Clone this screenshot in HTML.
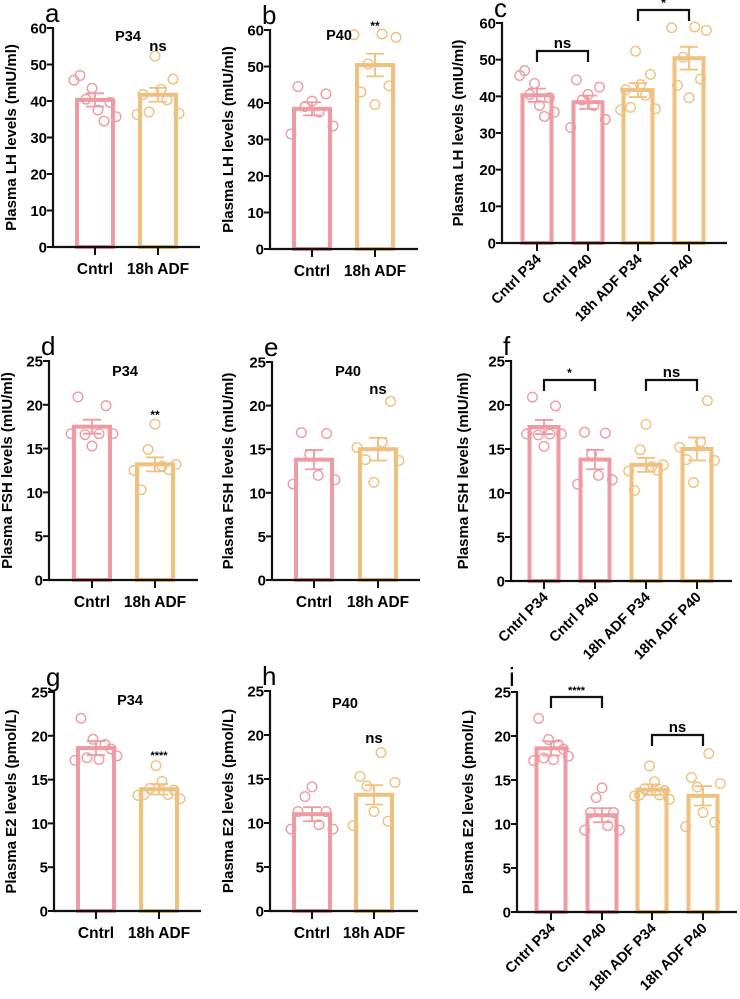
<!DOCTYPE html>
<html><head><meta charset="utf-8">
<style>
html,body{margin:0;padding:0;background:#fff}
svg{display:block}
text{font-family:"Liberation Sans",Arial,sans-serif}
</style></head>
<body>
<svg id="fig" width="740" height="999" viewBox="0 0 740 999"></svg>
<script>
// ---- data ----
const groups2 = ["Cntrl", "18h ADF"];
const groups4 = ["Cntrl P34", "Cntrl P40", "18h ADF P34", "18h ADF P40"];
const lhTicks = [0, 10, 20, 30, 40, 50, 60];
const fshTicks = [0, 5, 10, 15, 20, 25];
const e2Ticks = [0, 5, 10, 15, 20, 25];

const lhCtrlP34 = [45.7, 47, 40.5, 43.5, 37.5, 34.5, 39.6, 35.7];
const lhAdfP34 = [36.3, 41.8, 37, 52.3, 43.2, 40.3, 46, 36.6];
const lhCtrlP40 = [31.5, 44.5, 39, 40.5, 37.5, 42.5, 33.7];
const lhAdfP40 = [58.7, 43, 50.7, 39.6, 58.9, 44.7, 58];
const lhMeans = [40.3, 38.4, 41.7, 50.4];
const lhSems = [1.8, 1.8, 1.9, 3.1];

const fshCtrlP34 = [16.7, 20.9, 16.6, 15.3, 16.7, 19.9, 16.7];
const fshAdfP34 = [12.5, 10.3, 14.9, 17.8, 13.0, 12.6, 13.2];
const fshCtrlP40 = [11.0, 16.9, 14.4, 12.0, 16.8, 11.5];
const fshAdfP40 = [15.2, 13.8, 11.2, 15.8, 20.5, 13.7];
const fshMeans = [17.5, 13.8, 13.2, 15.0];
const fshSems = [0.8, 1.1, 0.8, 1.3];

const e2CtrlP34 = [17.2, 22, 17.5, 19.6, 17.3, 19, 18.5, 17.7];
const e2AdfP34 = [13.2, 13.3, 14, 16.6, 14.8, 13.3, 13.8, 12.8];
const e2CtrlP40 = [9.3, 11.3, 13, 14.1, 9.8, 11.3, 9.3];
const e2AdfP40 = [9.7, 15.3, 14.2, 11.3, 18, 10.2, 14.6];
const e2Means = [18.6, 11.0, 13.9, 13.2];
const e2Sems = [0.8, 0.8, 0.6, 1.1];

// ---- drawing ----
const NS = "http://www.w3.org/2000/svg";
const svg = document.getElementById("fig");
const PINK = "#ee9ba3", ORANGE = "#f0c07e";
function mk(tag, attrs, parent) {
  const e = document.createElementNS(NS, tag);
  for (const k in attrs) e.setAttribute(k, attrs[k]);
  (parent || svg).appendChild(e);
  return e;
}
function txt(str, attrs, parent) { const t = mk("text", attrs, parent); t.textContent = str; return t; }

function panel(cfg) {
  const g = mk("g", {});
  
  
  const ymax = cfg.ticks[cfg.ticks.length - 1];
  const yS = v => cfg.y0 - (v / ymax) * (cfg.y0 - cfg.yTop);
  const xS = i => cfg.ax + cfg.centers[i];
  cfg.means.forEach((m, i) => {
    const col = cfg.colors[i];
    const r = mk("rect", {x: xS(i) - cfg.bw / 2 + 2, y: yS(m), width: cfg.bw - 4, height: cfg.y0 - yS(m), fill: "none", stroke: col, "stroke-width": 4}, g);
    
    
  });
  cfg.points.forEach((pts, i) => {
    const n = pts.length, col = cfg.colors[i];
    pts.forEach((v, j) => {
      const off = n > 1 ? (j / (n - 1) - 0.5) * cfg.bw * 1.05 : 0;
      const c = mk("circle", {cx: xS(i) + off, cy: yS(v), r: 4.8, fill: "none", stroke: col, "stroke-width": 1.4}, g);
      
      
    });
  });
  cfg.means.forEach((m, i) => {
    const col = cfg.colors[i], s = cfg.sems[i], x = xS(i);
    mk("path", {d: `M${x} ${yS(m + s)}V${yS(m - s)}M${x - 9} ${yS(m + s)}h18M${x - 9} ${yS(m - s)}h18`, stroke: col, "stroke-width": 1.8, fill: "none"}, g);
  });
  mk("path", {d: `M${cfg.ax} ${cfg.yTop - 1}V${cfg.y0}H${cfg.xEnd}`, stroke: "#111", "stroke-width": 2.2, fill: "none"}, g);
  cfg.ticks.forEach(t => {
    mk("line", {x1: cfg.ax - 6, x2: cfg.ax, y1: yS(t), y2: yS(t), stroke: "#111", "stroke-width": 2}, g);
    const tl = txt(String(t), {x: cfg.ax - 6, y: yS(t) + 5.5, "text-anchor": "end", "font-size": 15, "font-weight": "bold"}, g);
    
    
  });
  cfg.labels.forEach((l, i) => {
    mk("line", {x1: xS(i), x2: xS(i), y1: cfg.y0, y2: cfg.y0 + 8, stroke: "#111", "stroke-width": 2}, g);
    let tl;
    if (cfg.rot) {
      const px = xS(i) + 5, py = cfg.y0 + 17;
      tl = txt(l, {x: px, y: py, "text-anchor": "end", "font-size": 14.5, "font-weight": "bold", transform: `rotate(-45 ${px} ${py})`}, g);
    } else {
      tl = txt(l, {x: xS(i), y: cfg.y0 + 27, "text-anchor": "middle", "font-size": 15.5, "font-weight": "bold"}, g);
    }
    
    
  });
  const cy = (cfg.y0 + cfg.yTop) / 2;
  const yt = txt(cfg.ytitle, {x: cfg.ytx, y: cy, "text-anchor": "middle", "font-size": 15, "font-weight": "bold", transform: `rotate(-90 ${cfg.ytx} ${cy})`}, g);
  
  
  const pl = txt(cfg.letter, {x: cfg.ax - 8, y: cfg.yTop - 6, "font-size": 26}, g);
  
  
  if (cfg.title) {
    const tt = txt(cfg.title[0], {x: cfg.title[1], y: cfg.title[2], "text-anchor": "middle", "font-size": 14.5, "font-weight": "bold"}, g);
    
    
  }
  (cfg.sig || []).forEach(s => {
    let lx;
    if (s[2] >= 0) {
      const x1 = xS(s[1]), x2 = xS(s[2]);
      mk("path", {d: `M${x1} ${s[3] + 11}V${s[3]}H${x2}V${s[3] + 11}`, stroke: "#111", "stroke-width": 2.2, fill: "none"}, g);
      lx = (x1 + x2) / 2;
    } else lx = xS(s[1]);
    const st = txt(s[0], {x: lx, y: s[3] - 3, "text-anchor": "middle", "font-size": s[4], "font-weight": "bold"}, g);
    
    
  });
}

const C2 = [PINK, ORANGE], C4 = [PINK, PINK, ORANGE, ORANGE];
panel({name: "panel-a", letter: "a", ax: 53, yTop: 28, y0: 247, xEnd: 200, ticks: lhTicks, centers: [42, 105], bw: 40, labels: groups2, colors: C2,
  points: [lhCtrlP34, lhAdfP34], means: [lhMeans[0], lhMeans[2]], sems: [lhSems[0], lhSems[2]], ytitle: "Plasma LH levels (mIU/ml)", ytx: 16,
  title: ["P34", 128, 41], sig: [["ns", 1, -1, 54, 15]]});
panel({name: "panel-b", letter: "b", ax: 270, yTop: 30, y0: 249, xEnd: 418, ticks: lhTicks, centers: [42, 105], bw: 40, labels: groups2, colors: C2,
  points: [lhCtrlP40, lhAdfP40], means: [lhMeans[1], lhMeans[3]], sems: [lhSems[1], lhSems[3]], ytitle: "Plasma LH levels (mIU/ml)", ytx: 233,
  title: ["P40", 339, 40], sig: [["**", 1, -1, 33, 12]]});
panel({name: "panel-c", letter: "c", ax: 502, yTop: 23, y0: 243, xEnd: 727, ticks: lhTicks, centers: [35, 86, 136, 187], bw: 33, labels: groups4, colors: C4, rot: true,
  points: [lhCtrlP34, lhCtrlP40, lhAdfP34, lhAdfP40], means: lhMeans, sems: lhSems, ytitle: "Plasma LH levels (mIU/ml)", ytx: 463,
  sig: [["ns", 0, 1, 51, 15], ["*", 2, 3, 10, 12]]});

panel({name: "panel-d", letter: "d", ax: 49, yTop: 361, y0: 580, xEnd: 198, ticks: fshTicks, centers: [43, 106], bw: 40, labels: groups2, colors: C2,
  points: [fshCtrlP34, fshAdfP34], means: [fshMeans[0], fshMeans[2]], sems: [fshSems[0], fshSems[2]], ytitle: "Plasma FSH levels (mIU/ml)", ytx: 12,
  title: ["P34", 125, 376], sig: [["**", 1, -1, 422, 12]]});
panel({name: "panel-e", letter: "e", ax: 272, yTop: 362, y0: 580, xEnd: 420, ticks: fshTicks, centers: [42, 106], bw: 40, labels: groups2, colors: C2,
  points: [fshCtrlP40, fshAdfP40], means: [fshMeans[1], fshMeans[3]], sems: [fshSems[1], fshSems[3]], ytitle: "Plasma FSH levels (mIU/ml)", ytx: 233,
  title: ["P40", 348, 376], sig: [["ns", 1, -1, 397, 15]]});
panel({name: "panel-f", letter: "f", ax: 511, yTop: 361, y0: 581, xEnd: 732, ticks: fshTicks, centers: [33, 84, 135, 186], bw: 33, labels: groups4, colors: C4, rot: true,
  points: [fshCtrlP34, fshCtrlP40, fshAdfP34, fshAdfP40], means: fshMeans, sems: fshSems, ytitle: "Plasma FSH levels (mIU/ml)", ytx: 468,
  sig: [["*", 0, 1, 380, 12], ["ns", 2, 3, 380, 15]]});

panel({name: "panel-g", letter: "g", ax: 54, yTop: 692, y0: 911, xEnd: 201, ticks: e2Ticks, centers: [42, 105], bw: 40, labels: groups2, colors: C2,
  points: [e2CtrlP34, e2AdfP34], means: [e2Means[0], e2Means[2]], sems: [e2Sems[0], e2Sems[2]], ytitle: "Plasma E2 levels (pmol/L)", ytx: 16,
  title: ["P34", 130, 705], sig: [["****", 1, -1, 762, 11]]});
panel({name: "panel-h", letter: "h", ax: 270, yTop: 691, y0: 911, xEnd: 418, ticks: e2Ticks, centers: [42, 104], bw: 40, labels: groups2, colors: C2,
  points: [e2CtrlP40, e2AdfP40], means: [e2Means[1], e2Means[3]], sems: [e2Sems[1], e2Sems[3]], ytitle: "Plasma E2 levels (pmol/L)", ytx: 233,
  title: ["P40", 345, 708], sig: [["ns", 1, -1, 746, 15]]});
panel({name: "panel-i", letter: "i", ax: 517, yTop: 692, y0: 912, xEnd: 737, ticks: e2Ticks, centers: [34, 85, 135, 186], bw: 33, labels: groups4, colors: C4, rot: true,
  points: [e2CtrlP34, e2CtrlP40, e2AdfP34, e2AdfP40], means: e2Means, sems: e2Sems, ytitle: "Plasma E2 levels (pmol/L)", ytx: 473,
  sig: [["****", 0, 1, 697, 11], ["ns", 2, 3, 735, 15]]});
</script>
</body></html>
